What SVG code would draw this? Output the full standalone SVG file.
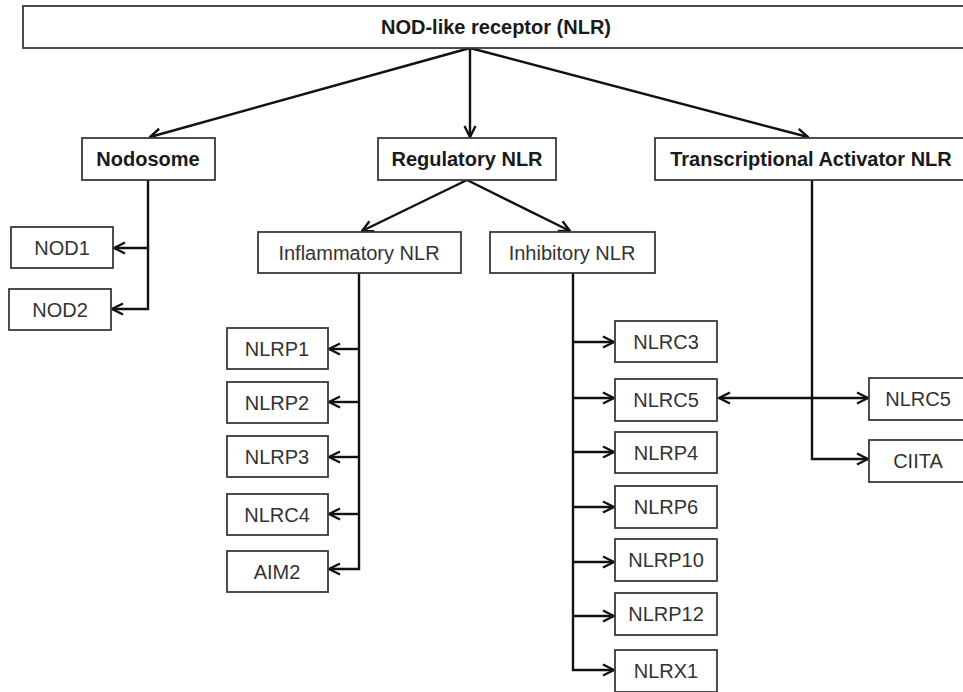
<svg xmlns="http://www.w3.org/2000/svg" width="963" height="692" viewBox="0 0 963 692">
<style>
.box{fill:#fff;stroke:#3a3a3a;stroke-width:1.8}
.t{font-family:"Liberation Sans",Arial,sans-serif;font-size:20px;fill:#333;text-anchor:middle}
.b{font-weight:bold;fill:#1a1a1a}
.c{fill:none;stroke:#111;stroke-width:2.4}
</style>
<defs>
<marker id="ah" viewBox="0 0 14 14" refX="13" refY="7" markerWidth="14" markerHeight="14" markerUnits="userSpaceOnUse" orient="auto-start-reverse">
<path d="M2,1.5 L13,7 L2,12.5" fill="none" stroke="#111" stroke-width="2.4"/>
</marker>
</defs>
<g id="connectors" class="c">
<path class="c" d="M470,48 L150,137" marker-end="url(#ah)"/>
<path class="c" d="M470,48 L470,137" marker-end="url(#ah)"/>
<path class="c" d="M470,48 L808,137" marker-end="url(#ah)"/>
<path class="c" d="M148,180 V309 H112" marker-end="url(#ah)"/>
<path class="c" d="M148,248 H114" marker-end="url(#ah)"/>
<path class="c" d="M467,180 L362,231" marker-end="url(#ah)"/>
<path class="c" d="M467,180 L570,231" marker-end="url(#ah)"/>
<path class="c" d="M359,273 V569 H329" marker-end="url(#ah)"/>
<path class="c" d="M359,349 H329" marker-end="url(#ah)"/>
<path class="c" d="M359,402 H329" marker-end="url(#ah)"/>
<path class="c" d="M359,457 H329" marker-end="url(#ah)"/>
<path class="c" d="M359,514 H329" marker-end="url(#ah)"/>
<path class="c" d="M573,273 V670 H614" marker-end="url(#ah)"/>
<path class="c" d="M573,342 H614" marker-end="url(#ah)"/>
<path class="c" d="M573,398 H614" marker-end="url(#ah)"/>
<path class="c" d="M573,452 H614" marker-end="url(#ah)"/>
<path class="c" d="M573,507 H614" marker-end="url(#ah)"/>
<path class="c" d="M573,562 H614" marker-end="url(#ah)"/>
<path class="c" d="M573,616 H614" marker-end="url(#ah)"/>
<path class="c" d="M812,180 V459 H868" marker-end="url(#ah)"/>
<path class="c" d="M719,398 H868" marker-start="url(#ah)" marker-end="url(#ah)"/>
</g>
<g id="nlr"><rect class="box" x="23" y="6" width="945" height="42"/><text class="t b" x="496" y="34">NOD-like receptor (NLR)</text></g>
<g id="nodosome"><rect class="box" x="82" y="138" width="133" height="42"/><text class="t b" x="148" y="166">Nodosome</text></g>
<g id="regulatory"><rect class="box" x="378" y="138" width="178" height="42"/><text class="t b" x="467" y="166">Regulatory NLR</text></g>
<g id="transcriptional"><rect class="box" x="655" y="138" width="313" height="42"/><text class="t b" x="811" y="166">Transcriptional Activator NLR</text></g>
<g id="nod1"><rect class="box" x="11" y="227" width="102" height="41"/><text class="t" x="62" y="255">NOD1</text></g>
<g id="nod2"><rect class="box" x="9" y="289" width="102" height="41"/><text class="t" x="60" y="317">NOD2</text></g>
<g id="inflammatory"><rect class="box" x="258" y="232" width="203" height="41"/><text class="t" x="359" y="260">Inflammatory NLR</text></g>
<g id="inhibitory"><rect class="box" x="490" y="232" width="165" height="41"/><text class="t" x="572" y="260">Inhibitory NLR</text></g>
<g id="nlrp1"><rect class="box" x="227" y="328" width="101" height="41"/><text class="t" x="277" y="356">NLRP1</text></g>
<g id="nlrp2"><rect class="box" x="227" y="382" width="101" height="41"/><text class="t" x="277" y="410">NLRP2</text></g>
<g id="nlrp3"><rect class="box" x="227" y="436" width="101" height="41"/><text class="t" x="277" y="464">NLRP3</text></g>
<g id="nlrc4"><rect class="box" x="227" y="494" width="101" height="41"/><text class="t" x="277" y="522">NLRC4</text></g>
<g id="aim2"><rect class="box" x="227" y="551" width="101" height="41"/><text class="t" x="277" y="579">AIM2</text></g>
<g id="nlrc3"><rect class="box" x="615" y="321" width="102" height="41"/><text class="t" x="666" y="349">NLRC3</text></g>
<g id="nlrc5a"><rect class="box" x="615" y="379" width="102" height="42"/><text class="t" x="666" y="407">NLRC5</text></g>
<g id="nlrp4"><rect class="box" x="615" y="432" width="102" height="41"/><text class="t" x="666" y="460">NLRP4</text></g>
<g id="nlrp6"><rect class="box" x="615" y="486" width="102" height="42"/><text class="t" x="666" y="514">NLRP6</text></g>
<g id="nlrp10"><rect class="box" x="615" y="539" width="102" height="42"/><text class="t" x="666" y="567">NLRP10</text></g>
<g id="nlrp12"><rect class="box" x="615" y="593" width="102" height="42"/><text class="t" x="666" y="621">NLRP12</text></g>
<g id="nlrx1"><rect class="box" x="615" y="650" width="102" height="42"/><text class="t" x="666" y="678">NLRX1</text></g>
<g id="nlrc5b"><rect class="box" x="869" y="378" width="99" height="42"/><text class="t" x="918" y="406">NLRC5</text></g>
<g id="ciita"><rect class="box" x="869" y="440" width="99" height="42"/><text class="t" x="918" y="468">CIITA</text></g>
</svg>
